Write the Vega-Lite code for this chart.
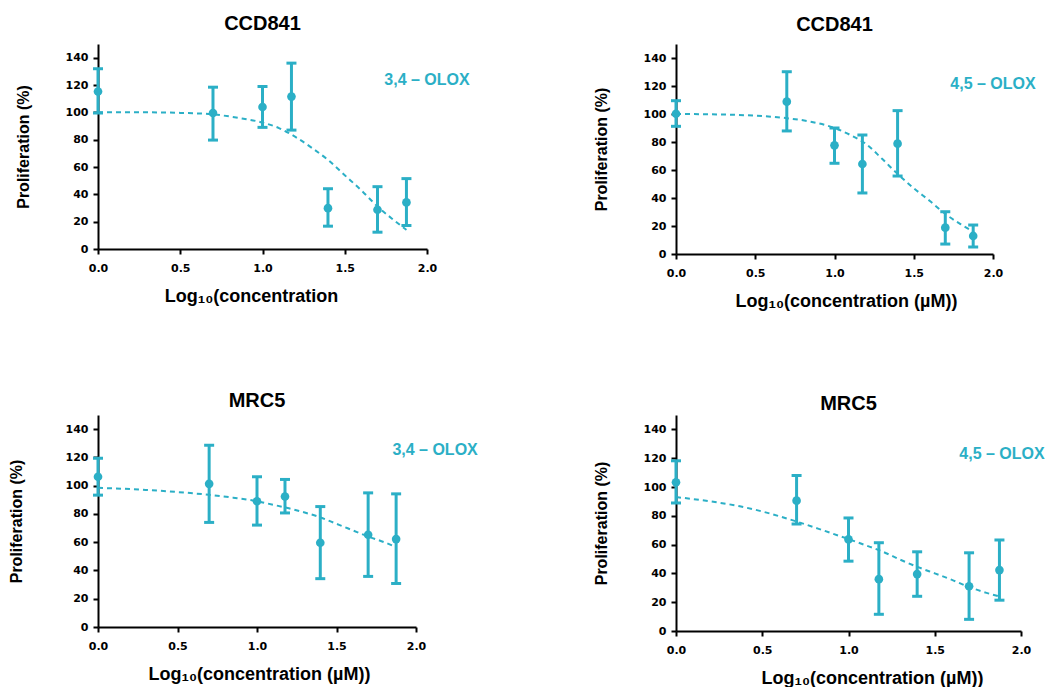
{
  "$schema": "https://vega.github.io/schema/vega-lite/v6.json",
  "background": "white",
  "padding": {"left": 8, "top": 14, "right": 0, "bottom": 0},
  "config": {
    "view": {"stroke": null},
    "font": "Liberation Sans",
    "title": {"font": "Liberation Sans", "fontSize": 20, "fontWeight": "bold", "color": "black", "anchor": "middle", "offset": 12},
    "axis": {
      "grid": false,
      "domainColor": "black", "domainWidth": 2,
      "tickColor": "black", "tickWidth": 2, "tickSize": 5,
      "labelFont": "DejaVu Sans", "labelFontWeight": "bold", "labelFontSize": 11, "labelColor": "black", "labelPadding": 5,
      "labelOverlap": false, "labelFlush": false, "labelBound": false,
      "titleFont": "Liberation Sans", "titleFontWeight": "bold", "titleFontSize": 16, "titleColor": "black"
    },
    "axisX": {"labelPadding": 8, "titlePadding": 14, "titleFontSize": 18},
    "tick": {"orient": "horizontal"}
  },
  "datasets": {
    "pts": [
      {"panel": "A", "logc": 0, "mean": 115.2, "lo": 99.5, "hi": 131.9},
      {"panel": "A", "logc": 0.699, "mean": 99.5, "lo": 79.7, "hi": 118.4},
      {"panel": "A", "logc": 1.0, "mean": 103.9, "lo": 89, "hi": 118.9},
      {"panel": "A", "logc": 1.176, "mean": 111.5, "lo": 87, "hi": 136},
      {"panel": "A", "logc": 1.398, "mean": 29.9, "lo": 16.7, "hi": 44.1},
      {"panel": "A", "logc": 1.699, "mean": 28.7, "lo": 12.3, "hi": 45.6},
      {"panel": "A", "logc": 1.875, "mean": 34.1, "lo": 17.2, "hi": 51.5},
      {"panel": "B", "logc": 0, "mean": 100.2, "lo": 91.2, "hi": 109.5},
      {"panel": "B", "logc": 0.699, "mean": 108.8, "lo": 87.9, "hi": 130.2},
      {"panel": "B", "logc": 1.0, "mean": 77.6, "lo": 64.8, "hi": 90},
      {"panel": "B", "logc": 1.176, "mean": 64.3, "lo": 43.6, "hi": 85},
      {"panel": "B", "logc": 1.398, "mean": 78.8, "lo": 55.7, "hi": 102.4},
      {"panel": "B", "logc": 1.699, "mean": 18.8, "lo": 7.1, "hi": 30.2},
      {"panel": "B", "logc": 1.875, "mean": 12.9, "lo": 5, "hi": 20.7},
      {"panel": "C", "logc": 0, "mean": 106.3, "lo": 93.3, "hi": 119.4},
      {"panel": "C", "logc": 0.699, "mean": 101.3, "lo": 74, "hi": 128.6},
      {"panel": "C", "logc": 1.0, "mean": 89, "lo": 72.1, "hi": 106.3},
      {"panel": "C", "logc": 1.176, "mean": 92.3, "lo": 80.7, "hi": 104.4},
      {"panel": "C", "logc": 1.398, "mean": 59.6, "lo": 34.2, "hi": 85.2},
      {"panel": "C", "logc": 1.699, "mean": 65.3, "lo": 35.8, "hi": 94.9},
      {"panel": "C", "logc": 1.875, "mean": 62.2, "lo": 30.8, "hi": 94.2},
      {"panel": "D", "logc": 0, "mean": 103.3, "lo": 88.9, "hi": 118.2},
      {"panel": "D", "logc": 0.699, "mean": 90.5, "lo": 74.3, "hi": 108},
      {"panel": "D", "logc": 1.0, "mean": 63.6, "lo": 48.5, "hi": 78.5},
      {"panel": "D", "logc": 1.176, "mean": 36, "lo": 11.6, "hi": 61.3},
      {"panel": "D", "logc": 1.398, "mean": 39.5, "lo": 24.1, "hi": 55},
      {"panel": "D", "logc": 1.699, "mean": 31.1, "lo": 8.1, "hi": 54.3},
      {"panel": "D", "logc": 1.875, "mean": 42.3, "lo": 21.4, "hi": 63.2}
    ],
    "fit": [
      {"panel": "A", "logc": 0, "fit": 100}, {"panel": "A", "logc": 0.3, "fit": 100}, {"panel": "A", "logc": 0.5, "fit": 99.6},
      {"panel": "A", "logc": 0.7, "fit": 98.5}, {"panel": "A", "logc": 0.85, "fit": 96}, {"panel": "A", "logc": 1.0, "fit": 92.5},
      {"panel": "A", "logc": 1.1, "fit": 88.5}, {"panel": "A", "logc": 1.2, "fit": 82}, {"panel": "A", "logc": 1.3, "fit": 74},
      {"panel": "A", "logc": 1.4, "fit": 65}, {"panel": "A", "logc": 1.5, "fit": 54}, {"panel": "A", "logc": 1.6, "fit": 43},
      {"panel": "A", "logc": 1.7, "fit": 31}, {"panel": "A", "logc": 1.8, "fit": 21}, {"panel": "A", "logc": 1.875, "fit": 14},
      {"panel": "B", "logc": 0, "fit": 100}, {"panel": "B", "logc": 0.3, "fit": 99.6}, {"panel": "B", "logc": 0.5, "fit": 98.8},
      {"panel": "B", "logc": 0.7, "fit": 97}, {"panel": "B", "logc": 0.85, "fit": 94.5}, {"panel": "B", "logc": 1.0, "fit": 90},
      {"panel": "B", "logc": 1.1, "fit": 85}, {"panel": "B", "logc": 1.2, "fit": 78.5}, {"panel": "B", "logc": 1.3, "fit": 68},
      {"panel": "B", "logc": 1.4, "fit": 57}, {"panel": "B", "logc": 1.5, "fit": 47}, {"panel": "B", "logc": 1.6, "fit": 38},
      {"panel": "B", "logc": 1.7, "fit": 28.5}, {"panel": "B", "logc": 1.8, "fit": 21}, {"panel": "B", "logc": 1.875, "fit": 16},
      {"panel": "C", "logc": 0, "fit": 98.5}, {"panel": "C", "logc": 0.3, "fit": 97}, {"panel": "C", "logc": 0.5, "fit": 95.5},
      {"panel": "C", "logc": 0.7, "fit": 93.5}, {"panel": "C", "logc": 0.85, "fit": 91.5}, {"panel": "C", "logc": 1.0, "fit": 89},
      {"panel": "C", "logc": 1.1, "fit": 86.5}, {"panel": "C", "logc": 1.2, "fit": 84}, {"panel": "C", "logc": 1.3, "fit": 81},
      {"panel": "C", "logc": 1.4, "fit": 77.5}, {"panel": "C", "logc": 1.5, "fit": 73}, {"panel": "C", "logc": 1.6, "fit": 68.5},
      {"panel": "C", "logc": 1.7, "fit": 64}, {"panel": "C", "logc": 1.8, "fit": 60}, {"panel": "C", "logc": 1.875, "fit": 56.5},
      {"panel": "D", "logc": 0, "fit": 93}, {"panel": "D", "logc": 0.2, "fit": 90}, {"panel": "D", "logc": 0.37, "fit": 86.6},
      {"panel": "D", "logc": 0.5, "fit": 83}, {"panel": "D", "logc": 0.7, "fit": 76}, {"panel": "D", "logc": 0.85, "fit": 70},
      {"panel": "D", "logc": 1.0, "fit": 63.8}, {"panel": "D", "logc": 1.1, "fit": 59.5}, {"panel": "D", "logc": 1.2, "fit": 55},
      {"panel": "D", "logc": 1.3, "fit": 49.5}, {"panel": "D", "logc": 1.4, "fit": 44.5}, {"panel": "D", "logc": 1.5, "fit": 40},
      {"panel": "D", "logc": 1.6, "fit": 35.5}, {"panel": "D", "logc": 1.7, "fit": 30.5}, {"panel": "D", "logc": 1.8, "fit": 26.5},
      {"panel": "D", "logc": 1.875, "fit": 24}
    ],
    "labels": [
      {"panel": "A", "logc": 2.0, "y": 124, "text": "3,4 – OLOX"},
      {"panel": "B", "logc": 2.0, "y": 121.6, "text": "4,5 – OLOX"},
      {"panel": "C", "logc": 2.12, "y": 125, "text": "3,4 – OLOX"},
      {"panel": "D", "logc": 1.89, "y": 123, "text": "4,5 – OLOX"}
    ]
  },
  "concat": [
    {
      "title": {"text": "CCD841", "offset": 10},
      "width": 329, "height": 205,
      "encoding": {
        "x": {"field": "logc", "type": "quantitative", "title": "Log₁₀(concentration", "scale": {"domain": [0, 2], "nice": false}, "axis": {"values": [0, 0.5, 1, 1.5, 2], "format": ".1f", "labelOverlap": false, "titleX": 153}}
      },
      "layer": [
        {"data": {"name": "fit"}, "transform": [{"filter": "datum.panel == 'A'"}],
         "mark": {"type": "line", "color": "#2bafc6", "strokeWidth": 2, "strokeDash": [5, 4], "interpolate": "monotone"},
         "encoding": {"y": {"field": "fit", "type": "quantitative", "title": "Proliferation (%)", "scale": {"domain": [0, 150], "nice": false}, "axis": {"values": [0, 20, 40, 60, 80, 100, 120, 140], "labelOverlap": false, "titlePadding": 34}}}},
        {"data": {"name": "pts"}, "transform": [{"filter": "datum.panel == 'A'"}],
         "mark": {"type": "rule", "color": "#2bafc6", "strokeWidth": 3},
         "encoding": {"y": {"field": "lo", "type": "quantitative", "title": "Proliferation (%)", "axis": {"values": [0, 20, 40, 60, 80, 100, 120, 140], "labelOverlap": false, "titlePadding": 34}}, "y2": {"field": "hi"}}},
        {"data": {"name": "pts"}, "transform": [{"filter": "datum.panel == 'A'"}, {"fold": ["lo", "hi"], "as": ["end", "v"]}],
         "mark": {"type": "tick", "color": "#2bafc6", "size": 10, "thickness": 3, "opacity": 1, "orient": "horizontal"},
         "encoding": {"y": {"field": "v", "type": "quantitative", "title": "Proliferation (%)", "axis": {"values": [0, 20, 40, 60, 80, 100, 120, 140], "labelOverlap": false, "titlePadding": 34}}}},
        {"data": {"name": "pts"}, "transform": [{"filter": "datum.panel == 'A'"}],
         "mark": {"type": "circle", "color": "#2bafc6", "opacity": 1, "size": 75},
         "encoding": {"y": {"field": "mean", "type": "quantitative", "title": "Proliferation (%)", "axis": {"values": [0, 20, 40, 60, 80, 100, 120, 140], "labelOverlap": false, "titlePadding": 34}}}},
        {"data": {"name": "labels"}, "transform": [{"filter": "datum.panel == 'A'"}],
         "mark": {"type": "text", "color": "#2bafc6", "font": "Liberation Sans", "fontWeight": "bold", "fontSize": 16, "align": "center", "baseline": "middle"},
         "encoding": {"y": {"field": "y", "type": "quantitative", "title": "Proliferation (%)", "axis": {"values": [0, 20, 40, 60, 80, 100, 120, 140], "labelOverlap": false, "titlePadding": 34}}, "text": {"field": "text"}}}
      ]
    },
    {
      "title": {"text": "CCD841", "offset": 9},
      "width": 317, "height": 210,
      "encoding": {
        "x": {"field": "logc", "type": "quantitative", "title": "Log₁₀(concentration (µM))", "scale": {"domain": [0, 2], "nice": false}, "axis": {"values": [0, 0.5, 1, 1.5, 2], "format": ".1f", "labelOverlap": false, "titleX": 170}}
      },
      "layer": [
        {"data": {"name": "fit"}, "transform": [{"filter": "datum.panel == 'B'"}],
         "mark": {"type": "line", "color": "#2bafc6", "strokeWidth": 2, "strokeDash": [5, 4], "interpolate": "monotone"},
         "encoding": {"y": {"field": "fit", "type": "quantitative", "title": "Proliferation (%)", "scale": {"domain": [0, 150], "nice": false}, "axis": {"values": [0, 20, 40, 60, 80, 100, 120, 140], "labelOverlap": false, "titlePadding": 34}}}},
        {"data": {"name": "pts"}, "transform": [{"filter": "datum.panel == 'B'"}],
         "mark": {"type": "rule", "color": "#2bafc6", "strokeWidth": 3},
         "encoding": {"y": {"field": "lo", "type": "quantitative", "title": "Proliferation (%)", "axis": {"values": [0, 20, 40, 60, 80, 100, 120, 140], "labelOverlap": false, "titlePadding": 34}}, "y2": {"field": "hi"}}},
        {"data": {"name": "pts"}, "transform": [{"filter": "datum.panel == 'B'"}, {"fold": ["lo", "hi"], "as": ["end", "v"]}],
         "mark": {"type": "tick", "color": "#2bafc6", "size": 10, "thickness": 3, "opacity": 1, "orient": "horizontal"},
         "encoding": {"y": {"field": "v", "type": "quantitative", "title": "Proliferation (%)", "axis": {"values": [0, 20, 40, 60, 80, 100, 120, 140], "labelOverlap": false, "titlePadding": 34}}}},
        {"data": {"name": "pts"}, "transform": [{"filter": "datum.panel == 'B'"}],
         "mark": {"type": "circle", "color": "#2bafc6", "opacity": 1, "size": 75},
         "encoding": {"y": {"field": "mean", "type": "quantitative", "title": "Proliferation (%)", "axis": {"values": [0, 20, 40, 60, 80, 100, 120, 140], "labelOverlap": false, "titlePadding": 34}}}},
        {"data": {"name": "labels"}, "transform": [{"filter": "datum.panel == 'B'"}],
         "mark": {"type": "text", "color": "#2bafc6", "font": "Liberation Sans", "fontWeight": "bold", "fontSize": 16, "align": "center", "baseline": "middle"},
         "encoding": {"y": {"field": "y", "type": "quantitative", "title": "Proliferation (%)", "axis": {"values": [0, 20, 40, 60, 80, 100, 120, 140], "labelOverlap": false, "titlePadding": 34}}, "text": {"field": "text"}}}
      ]
    },
    {
      "title": {"text": "MRC5", "offset": 4},
      "width": 318, "height": 212,
      "encoding": {
        "x": {"field": "logc", "type": "quantitative", "title": "Log₁₀(concentration (µM))", "scale": {"domain": [0, 2], "nice": false}, "axis": {"values": [0, 0.5, 1, 1.5, 2], "format": ".1f", "labelOverlap": false, "titleX": 161}}
      },
      "layer": [
        {"data": {"name": "fit"}, "transform": [{"filter": "datum.panel == 'C'"}],
         "mark": {"type": "line", "color": "#2bafc6", "strokeWidth": 2, "strokeDash": [5, 4], "interpolate": "monotone"},
         "encoding": {"y": {"field": "fit", "type": "quantitative", "title": "Proliferation (%)", "scale": {"domain": [0, 150], "nice": false}, "axis": {"values": [0, 20, 40, 60, 80, 100, 120, 140], "labelOverlap": false, "titlePadding": 41}}}},
        {"data": {"name": "pts"}, "transform": [{"filter": "datum.panel == 'C'"}],
         "mark": {"type": "rule", "color": "#2bafc6", "strokeWidth": 3},
         "encoding": {"y": {"field": "lo", "type": "quantitative", "title": "Proliferation (%)", "axis": {"values": [0, 20, 40, 60, 80, 100, 120, 140], "labelOverlap": false, "titlePadding": 41}}, "y2": {"field": "hi"}}},
        {"data": {"name": "pts"}, "transform": [{"filter": "datum.panel == 'C'"}, {"fold": ["lo", "hi"], "as": ["end", "v"]}],
         "mark": {"type": "tick", "color": "#2bafc6", "size": 10, "thickness": 3, "opacity": 1, "orient": "horizontal"},
         "encoding": {"y": {"field": "v", "type": "quantitative", "title": "Proliferation (%)", "axis": {"values": [0, 20, 40, 60, 80, 100, 120, 140], "labelOverlap": false, "titlePadding": 41}}}},
        {"data": {"name": "pts"}, "transform": [{"filter": "datum.panel == 'C'"}],
         "mark": {"type": "circle", "color": "#2bafc6", "opacity": 1, "size": 75},
         "encoding": {"y": {"field": "mean", "type": "quantitative", "title": "Proliferation (%)", "axis": {"values": [0, 20, 40, 60, 80, 100, 120, 140], "labelOverlap": false, "titlePadding": 41}}}},
        {"data": {"name": "labels"}, "transform": [{"filter": "datum.panel == 'C'"}],
         "mark": {"type": "text", "color": "#2bafc6", "font": "Liberation Sans", "fontWeight": "bold", "fontSize": 16, "align": "center", "baseline": "middle"},
         "encoding": {"y": {"field": "y", "type": "quantitative", "title": "Proliferation (%)", "axis": {"values": [0, 20, 40, 60, 80, 100, 120, 140], "labelOverlap": false, "titlePadding": 41}}, "text": {"field": "text"}}}
      ]
    },
    {
      "title": {"text": "MRC5", "offset": 1},
      "width": 345, "height": 216,
      "encoding": {
        "x": {"field": "logc", "type": "quantitative", "title": "Log₁₀(concentration (µM))", "scale": {"domain": [0, 2], "nice": false}, "axis": {"values": [0, 0.5, 1, 1.5, 2], "format": ".1f", "labelOverlap": false, "titleX": 196}}
      },
      "layer": [
        {"data": {"name": "fit"}, "transform": [{"filter": "datum.panel == 'D'"}],
         "mark": {"type": "line", "color": "#2bafc6", "strokeWidth": 2, "strokeDash": [5, 4], "interpolate": "monotone"},
         "encoding": {"y": {"field": "fit", "type": "quantitative", "title": "Proliferation (%)", "scale": {"domain": [0, 150], "nice": false}, "axis": {"values": [0, 20, 40, 60, 80, 100, 120, 140], "labelOverlap": false, "titlePadding": 34}}}},
        {"data": {"name": "pts"}, "transform": [{"filter": "datum.panel == 'D'"}],
         "mark": {"type": "rule", "color": "#2bafc6", "strokeWidth": 3},
         "encoding": {"y": {"field": "lo", "type": "quantitative", "title": "Proliferation (%)", "axis": {"values": [0, 20, 40, 60, 80, 100, 120, 140], "labelOverlap": false, "titlePadding": 34}}, "y2": {"field": "hi"}}},
        {"data": {"name": "pts"}, "transform": [{"filter": "datum.panel == 'D'"}, {"fold": ["lo", "hi"], "as": ["end", "v"]}],
         "mark": {"type": "tick", "color": "#2bafc6", "size": 10, "thickness": 3, "opacity": 1, "orient": "horizontal"},
         "encoding": {"y": {"field": "v", "type": "quantitative", "title": "Proliferation (%)", "axis": {"values": [0, 20, 40, 60, 80, 100, 120, 140], "labelOverlap": false, "titlePadding": 34}}}},
        {"data": {"name": "pts"}, "transform": [{"filter": "datum.panel == 'D'"}],
         "mark": {"type": "circle", "color": "#2bafc6", "opacity": 1, "size": 75},
         "encoding": {"y": {"field": "mean", "type": "quantitative", "title": "Proliferation (%)", "axis": {"values": [0, 20, 40, 60, 80, 100, 120, 140], "labelOverlap": false, "titlePadding": 34}}}},
        {"data": {"name": "labels"}, "transform": [{"filter": "datum.panel == 'D'"}],
         "mark": {"type": "text", "color": "#2bafc6", "font": "Liberation Sans", "fontWeight": "bold", "fontSize": 16, "align": "center", "baseline": "middle"},
         "encoding": {"y": {"field": "y", "type": "quantitative", "title": "Proliferation (%)", "axis": {"values": [0, 20, 40, 60, 80, 100, 120, 140], "labelOverlap": false, "titlePadding": 34}}, "text": {"field": "text"}}}
      ]
    }
  ],
  "columns": 2,
  "spacing": {"row": 81, "column": 115}
}
